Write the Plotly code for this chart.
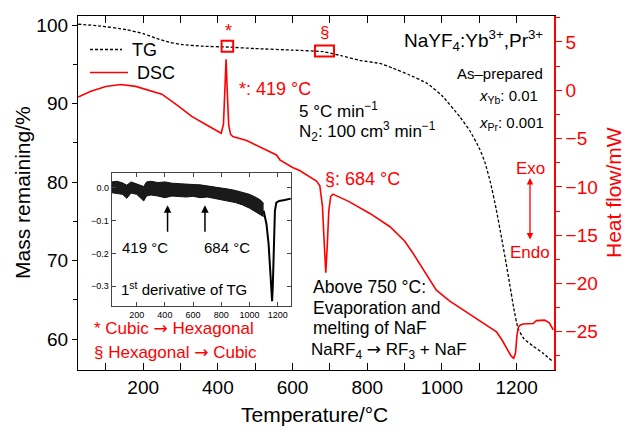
import plotly.graph_objects as go

# ---------------- data ----------------
tg_T = [26, 80, 156, 200, 236, 270, 307, 360, 423, 500, 601, 682, 730, 780, 834, 869,
        910, 959, 1000, 1048, 1075, 1101, 1115, 1130, 1145, 1160, 1172, 1182, 1192,
        1204, 1220, 1244, 1270, 1298]
tg_mass = [100.1, 99.9, 99.4, 98.9, 98.3, 97.8, 97.5, 97.3, 97.2, 97.0, 96.8, 96.6,
           96.1, 95.5, 95.1, 94.5, 93.7, 92.6, 91.0, 88.3, 86.5, 84.2, 82.5, 79.9,
           76.6, 72.8, 69.6, 66.8, 64.0, 61.3, 60.0, 59.1, 58.2, 57.1]

dsc_T = [26, 60, 100, 140, 180, 220, 250, 290, 330, 370, 400, 409, 415, 419, 422, 425,
         429, 434, 440, 477, 520, 557, 566, 600, 619, 640, 664, 673, 680, 685, 689,
         693, 697, 702, 708, 750, 807, 860, 900, 923, 955, 985, 1020, 1057, 1100,
         1146, 1160, 1175, 1185, 1192, 1197, 1201, 1205, 1210, 1217, 1244, 1253,
         1275, 1288, 1298]
dsc_heat = [-0.7, -0.1, 0.4, 0.6, 0.4, -0.05, -0.4, -1.5, -2.7, -3.6, -4.3, -4.45, -3.5,
            0.0, 3.2, 0.0, -3.6, -4.55, -4.8, -5.2, -6.0, -6.7, -7.2, -8.0, -8.3,
            -8.8, -9.4, -9.9, -12.0, -16.0, -18.9, -16.0, -12.5, -11.0, -10.75,
            -11.5, -12.75, -14.1, -15.6, -16.9, -18.8, -20.7, -21.8, -22.75, -23.9,
            -25.0, -25.8, -26.9, -27.5, -27.75, -27.2, -25.3, -24.5, -24.3, -24.2,
            -24.15, -23.85, -23.8, -24.1, -24.8]

# inset: 1st derivative of TG (noise band envelope + dip)
der_T = [25, 60, 100, 130, 160, 200, 250, 270, 300, 350, 400, 450, 500, 550, 600,
         650, 700, 750, 800, 850, 900, 950, 1000, 1050, 1080, 1100]
der_hi = [0.018, 0.02, 0.015, 0.008, 0.018, 0.012, 0.004, 0.018, 0.02, 0.016, 0.018,
          0.014, 0.012, 0.012, 0.01, 0.009, 0.006, 0.004, 0.001, -0.004, -0.008,
          -0.013, -0.02, -0.03, -0.038, -0.048]
der_lo = [-0.015, -0.018, -0.02, -0.032, -0.016, -0.02, -0.04, -0.025, -0.022, -0.025,
          -0.03, -0.025, -0.026, -0.028, -0.026, -0.03, -0.028, -0.032, -0.036, -0.04,
          -0.045, -0.052, -0.062, -0.075, -0.083, -0.088]
dip_T = [1100, 1120, 1135, 1150, 1160, 1165, 1172, 1180, 1190, 1210, 1250, 1292]
dip_v = [-0.07, -0.11, -0.17, -0.27, -0.345, -0.3, -0.18, -0.07, -0.045, -0.04,
         -0.037, -0.033]

x_ticks = [200, 400, 600, 800, 1000, 1200]
mass_ticks = [60, 70, 80, 90, 100]
heat_ticks = [-25, -20, -15, -10, -5, 0, 5]
inset_yticks = [0.0, -0.1, -0.2, -0.3]

FONT = "Liberation Sans, Arial, Helvetica, sans-serif"
RED = "#ff0000"
ARROW = '<span style="font-family:DejaVu Sans">→</span>'

# layout geometry (pixels)
L, R, T, B = 78, 71, 16, 59
W, H = 625, 429
PW, PH = W - L - R, H - T - B


def PX(x):
    return (x - L) / PW


def PY(y):
    return (H - B - y) / PH


fig = go.Figure()

fig.add_trace(go.Scatter(x=tg_T, y=tg_mass, mode="lines", name="TG",
                         line=dict(color="black", width=1.3, dash="3px,2px", shape="spline",
                                   smoothing=0.5),
                         showlegend=False, xaxis="x", yaxis="y"))
fig.add_trace(go.Scatter(x=dsc_T, y=dsc_heat, mode="lines", name="DSC",
                         line=dict(color=RED, width=1.6),
                         showlegend=False, xaxis="x", yaxis="y2"))

# inset traces
fig.add_trace(go.Scatter(x=der_T, y=der_hi, mode="lines", line=dict(color="#111", width=1),
                         showlegend=False, xaxis="x3", yaxis="y3"))
fig.add_trace(go.Scatter(x=der_T, y=der_lo, mode="lines", line=dict(color="#111", width=1),
                         fill="tonexty", fillcolor="#1a1a1a",
                         showlegend=False, xaxis="x3", yaxis="y3"))
fig.add_trace(go.Scatter(x=dip_T, y=dip_v, mode="lines", line=dict(color="black", width=2),
                         showlegend=False, xaxis="x3", yaxis="y3"))

ann = []


def text(x, y, s, size=17, color="black", xanchor="left", yanchor="middle", **kw):
    ann.append(dict(x=PX(x), y=PY(y), xref="paper", yref="paper", text=s, showarrow=False,
                    xanchor=xanchor, yanchor=yanchor,
                    font=dict(family=FONT, size=size, color=color), **kw))


# legend
text(130, 50, "TG", 18)
text(135, 73, "DSC", 18)
# markers
text(228, 31, "*", 18, RED, xanchor="center")
text(324, 32, "§", 17, RED, xanchor="center")
text(237, 89, "*: 419 °C", 18, RED)
text(297, 110, "5 °C min<sup>−1</sup>", 17)
text(297, 131, "N<sub>2</sub>: 100 cm<sup>3</sup> min<sup>−1</sup>", 17)
text(545, 40, "NaYF<sub>4</sub>:Yb<sup>3+</sup>,Pr<sup>3+</sup>", 19, xanchor="right")
text(455, 73, "As–prepared", 15)
text(477, 97, "<i>x</i><sub>Yb</sub>: 0.01", 15)
text(477, 124, "<i>x</i><sub>Pr</sub>: 0.001", 15)
text(323, 179, "§: 684 °C", 18, RED)
text(530, 168, "Exo", 17, RED, xanchor="center")
text(530, 252, "Endo", 17, RED, xanchor="center")
text(311, 287, "Above 750 °C:", 17.5)
text(311, 308, "Evaporation and", 17.5)
text(311, 328, "melting of NaF", 17.5)
text(309, 350, "NaRF<sub>4</sub> " + ARROW + " RF<sub>3</sub> + NaF", 17)
text(92, 328, "* Cubic " + ARROW + " Hexagonal", 17, RED)
text(92, 352, "§ Hexagonal " + ARROW + " Cubic", 17, RED)
# inset texts
text(120, 248, "419 °C", 15)
text(202, 248, "684 °C", 15)
text(119, 288, "1<sup>st</sup> derivative of TG", 15)
# axis titles
text(22, 193, "Mass remaining/%", 21, xanchor="center", textangle=-90)
text(613, 193, "Heat flow/mW", 21, RED, xanchor="center", textangle=-90)
text(314, 414, "Temperature/°C", 21, xanchor="center")

# Exo/Endo double arrow
ann.append(dict(x=PX(530), y=PY(178), xref="paper", yref="paper", text="", showarrow=True,
                ax=0, ay=63, arrowside="end+start", arrowhead=2, arrowsize=1,
                arrowwidth=1.3, arrowcolor=RED))
# inset arrows
for t in (419, 684):
    ann.append(dict(x=t, y=-0.053, xref="x3", yref="y3", text="", showarrow=True,
                    ax=0, ay=28, arrowhead=2, arrowsize=1, arrowwidth=1.5,
                    arrowcolor="black"))

shapes = [
    # legend samples
    dict(type="line", xref="paper", yref="paper", x0=PX(90), x1=PX(122), y0=PY(49.5),
         y1=PY(49.5), line=dict(color="black", width=1.3, dash="3px,2px")),
    dict(type="line", xref="paper", yref="paper", x0=PX(90), x1=PX(128), y0=PY(72.5),
         y1=PY(72.5), line=dict(color=RED, width=1.6)),
    # red boxes on TG
    dict(type="rect", xref="x", yref="y", x0=410, x1=441, y0=96.6, y1=98.0,
         line=dict(color=RED, width=2)),
    dict(type="rect", xref="x", yref="y", x0=660, x1=711, y0=96.0, y1=97.4,
         line=dict(color=RED, width=2)),
]

tickfont = dict(family=FONT, size=19, color="black")

fig.update_layout(
    width=W, height=H,
    margin=dict(l=L, r=R, t=T, b=B, pad=0),
    paper_bgcolor="white", plot_bgcolor="white",
    showlegend=False,
    annotations=ann, shapes=shapes,
    xaxis=dict(range=[25.5, 1300], tickvals=x_ticks, ticks="inside", ticklen=7,
               tickwidth=1.2, tickcolor="black", showline=True, linecolor="black",
               linewidth=1.3, mirror="allticks", showgrid=False, zeroline=False,
               tickfont=tickfont,
               minor=dict(dtick=100, tick0=0, ticks="inside", ticklen=4, tickcolor="black",
                          tickwidth=1.1, showgrid=False)),
    yaxis=dict(range=[56.05, 101.15], tickvals=mass_ticks, ticks="outside", ticklen=5,
               tickwidth=1.2, tickcolor="black", showline=True, linecolor="black",
               linewidth=1.3, showgrid=False, zeroline=False, tickfont=tickfont,
               minor=dict(dtick=5, tick0=0, ticks="outside", ticklen=4, tickcolor="black",
                          tickwidth=1.1, showgrid=False)),
    yaxis2=dict(range=[-28.96, 7.69], tickvals=heat_ticks, overlaying="y", side="right",
                ticks="outside", ticklen=6, tickwidth=1.2, tickcolor=RED, showline=True,
                linecolor=RED, linewidth=1.5, showgrid=False, zeroline=False,
                tickfont=dict(family=FONT, size=19, color=RED),
                minor=dict(dtick=2.5, tick0=0, ticks="outside", ticklen=4, tickcolor=RED,
                           tickwidth=1.1, showgrid=False)),
    xaxis3=dict(domain=[PX(111.7), PX(291)], anchor="y3", range=[23, 1294],
                tickvals=x_ticks, ticks="inside", ticklen=4, tickcolor="#444",
                showline=True, linecolor="#444", linewidth=1, mirror="allticks",
                showgrid=False, zeroline=False,
                tickfont=dict(family=FONT, size=9, color="black")),
    yaxis3=dict(domain=[PY(305.7), PY(172.7)], anchor="x3", range=[-0.359, 0.046],
                tickvals=inset_yticks, tickformat=".1f", ticks="inside", ticklen=4,
                tickcolor="#444", showline=True, linecolor="#444", linewidth=1,
                mirror="allticks", showgrid=False, zeroline=False,
                tickfont=dict(family=FONT, size=9, color="black")),
)

fig.write_html("out.html")
